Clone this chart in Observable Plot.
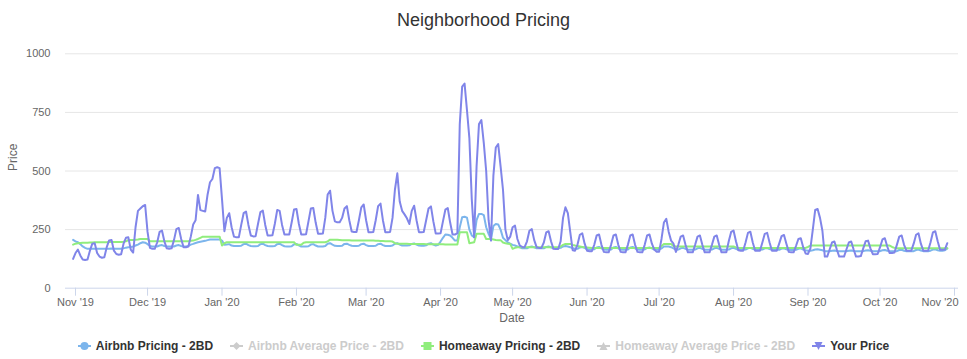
<!DOCTYPE html>
<html><head><meta charset="utf-8">
<script src="https://cdn.jsdelivr.net/npm/d3@7"></script>
<script src="https://cdn.jsdelivr.net/npm/@observablehq/plot@0.6"></script>
<style>
body{margin:0;background:#fff;font-family:"Liberation Sans",Arial,sans-serif;}
#wrap{position:relative;width:967px;height:359px;overflow:hidden;background:#fff;}
#chart{position:absolute;top:0;left:0;}
#title{position:absolute;top:9px;left:0;width:967px;text-align:center;font-size:18px;line-height:22px;color:#333333;}
#legend{position:absolute;top:338px;left:0px;width:967px;height:16px;display:flex;justify-content:center;align-items:center;}
.item{display:flex;align-items:center;margin:0 8.5px;font-weight:bold;font-size:12px;line-height:16px;color:#333333;white-space:nowrap;}
.item.off{color:#cccccc;}
.item svg{margin-right:5px;}
</style></head>
<body>
<div id="wrap"><div id="chart"></div><div id="title">Neighborhood Pricing</div><div id="legend"></div></div>
<script>
// Daily data from Thu 2019-10-31, one row per week: [Thu, Fri, Sat, Sun, Mon, Tue, Wed]
const startDate = "2019-10-31";

const yourPriceWeeks = [
  [125,150,165,140,122,120,122],
  [160,190,192,150,135,130,132],
  [175,204,206,160,146,143,145],
  [190,215,217,165,152,260,330],
  [340,350,355,240,172,168,168],
  [195,240,246,200,170,168,170],
  [205,252,257,210,175,175,178],
  [220,272,290,398,333,330,327],
  [400,452,466,512,516,512,380],
  [243,300,320,260,220,217,217],
  [270,320,327,270,225,221,222],
  [275,325,331,270,225,225,226],
  [275,334,330,270,229,229,229],
  [280,336,338,275,229,229,230],
  [285,340,342,280,232,232,233],
  [300,400,416,330,285,281,281],
  [300,340,350,290,242,240,240],
  [290,345,357,290,239,239,240],
  [290,350,361,290,239,239,240],
  [300,420,490,370,330,315,298],
  [274,330,352,290,239,239,240],
  [290,340,349,285,233,233,234],
  [285,335,342,280,229,229,235],
  [700,860,873,760,640,380,217],
  [520,700,717,620,500,290,203],
  [480,600,615,520,420,250,205],
  [220,260,267,210,182,176,175],
  [200,245,252,205,175,172,172],
  [195,238,243,200,168,167,167],
  [200,300,345,320,240,162,160],
  [185,228,234,190,160,158,158],
  [185,225,229,185,155,153,153],
  [185,225,229,185,155,153,153],
  [185,225,229,185,155,153,153],
  [185,225,229,190,165,155,155],
  [210,280,296,240,203,190,155],
  [185,220,225,185,153,153,153],
  [185,220,225,185,153,153,153],
  [185,220,225,185,153,153,153],
  [200,240,246,200,162,160,160],
  [195,236,241,195,160,160,160],
  [195,232,236,195,160,160,160],
  [190,222,227,190,155,153,153],
  [180,210,213,175,148,146,170],
  [250,334,338,300,245,135,135],
  [165,195,199,165,135,135,135],
  [165,195,199,165,135,135,137],
  [170,200,203,170,145,145,146],
  [175,208,213,178,150,150,152],
  [185,220,225,185,160,160,160],
  [190,228,234,190,160,160,160],
  [195,238,243,200,164,164,165],
  [192]
];

const airbnbWeeks = [
  [206,200,196,188,178,172,168],
  [168,168,168,168,168,168,168],
  [168,168,169,168,168,168,168],
  [170,173,175,176,178,182,186],
  [192,196,194,188,180,178,178],
  [178,182,184,180,178,178,178],
  [178,182,184,180,178,178,180],
  [186,189,193,196,198,200,202],
  [205,208,208,208,208,208,203],
  [185,186,188,182,180,180,180],
  [181,188,190,184,180,179,179],
  [180,188,190,184,180,179,179],
  [180,188,190,184,179,178,178],
  [179,187,189,183,178,178,178],
  [179,186,188,182,178,178,178],
  [180,190,192,186,181,180,180],
  [181,189,190,185,181,180,180],
  [181,188,190,184,180,180,180],
  [181,188,190,184,180,180,180],
  [182,190,192,186,182,182,182],
  [183,189,191,186,182,181,181],
  [183,190,192,186,182,185,199],
  [215,229,228,225,215,203,203],
  [260,303,305,301,250,225,217],
  [290,317,317,312,260,232,210],
  [265,274,272,250,215,205,195],
  [190,185,182,178,174,170,170],
  [170,176,178,174,170,170,170],
  [170,176,178,174,170,170,170],
  [172,178,180,178,175,170,168],
  [168,174,176,172,166,165,165],
  [166,174,176,170,165,164,164],
  [165,174,176,170,165,164,164],
  [165,174,176,170,165,164,164],
  [165,172,174,170,165,164,164],
  [170,178,178,178,175,170,164],
  [165,170,172,168,164,164,164],
  [165,170,172,168,164,164,164],
  [165,170,172,168,164,164,164],
  [165,170,172,168,164,164,164],
  [165,170,172,168,164,164,164],
  [165,170,171,167,164,164,164],
  [164,169,170,166,163,163,163],
  [164,168,170,165,162,160,160],
  [162,165,166,164,162,158,158],
  [158,160,161,159,158,158,158],
  [158,160,161,159,158,158,158],
  [158,161,162,160,158,158,158],
  [158,162,163,160,158,158,158],
  [158,163,164,160,158,158,158],
  [158,163,165,161,158,158,158],
  [160,165,166,162,160,160,162],
  [170]
];

const homeawayWeeks = [
  [186,190,192,193,194,194,194],
  [195,195,196,196,196,196,196],
  [196,197,197,197,197,197,197],
  [198,200,205,206,206,207,208],
  [210,210,210,210,200,200,200],
  [200,200,200,200,200,200,200],
  [200,200,200,200,200,200,200],
  [202,203,206,210,215,220,220],
  [220,220,220,220,220,220,182],
  [192,196,196,196,196,196,196],
  [196,196,196,196,196,196,196],
  [196,196,196,196,196,196,196],
  [196,196,196,196,196,196,196],
  [196,196,185,185,185,194,196],
  [196,196,196,196,196,196,196],
  [196,200,207,207,207,207,206],
  [205,205,205,205,204,204,204],
  [203,203,203,203,203,203,203],
  [202,202,201,201,200,200,200],
  [199,192,190,190,190,190,190],
  [189,189,189,189,189,189,189],
  [188,188,188,188,188,188,188],
  [187,186,186,186,186,186,186],
  [239,239,239,239,192,194,196],
  [232,232,232,232,210,210,210],
  [208,206,205,205,195,192,190],
  [189,168,172,175,175,175,175],
  [175,175,175,175,175,175,175],
  [175,175,175,175,175,175,175],
  [178,185,189,189,189,185,182],
  [180,178,176,175,174,173,172],
  [172,172,172,172,172,172,172],
  [172,172,172,172,172,172,172],
  [172,172,172,172,172,172,172],
  [172,172,172,172,172,172,172],
  [180,189,189,189,189,180,178],
  [178,178,178,178,178,178,178],
  [178,178,178,178,178,178,178],
  [178,178,178,178,178,178,178],
  [178,178,178,174,172,172,172],
  [172,172,172,172,172,172,172],
  [172,172,172,172,172,172,172],
  [172,172,172,172,172,172,172],
  [172,172,172,172,172,176,182],
  [182,182,182,182,182,182,182],
  [182,182,182,182,182,182,182],
  [182,182,182,182,182,182,182],
  [182,182,182,182,182,182,182],
  [182,182,182,182,182,176,172],
  [170,170,170,170,170,170,170],
  [170,170,170,170,170,170,170],
  [170,170,170,170,170,170,170],
  [170]
];

const yTicks = [0, 250, 500, 750, 1000];
const xTickDates = ["2019-11-01","2019-12-01","2020-01-01","2020-02-01","2020-03-01","2020-04-01",
  "2020-05-01","2020-06-01","2020-07-01","2020-08-01","2020-09-01","2020-10-01","2020-11-01"];
const xTickLabels = ["Nov '19","Dec '19","Jan '20","Feb '20","Mar '20","Apr '20",
  "May '20","Jun '20","Jul '20","Aug '20","Sep '20","Oct '20","Nov '20"];

const legendNames = ["Airbnb Pricing - 2BD","Airbnb Average Price - 2BD","Homeaway Pricing - 2BD","Homeaway Average Price - 2BD","Your Price"];
const legendColors = ["#7cb5ec","#cccccc","#90ed7d","#cccccc","#8085e9"];
const legendSymbols = ["circle","diamond","square","triangle","triangle-down"];
const legendActive = [true,false,true,false,true];

// ---- build
const DAY = 86400000;
const t0 = Date.parse(startDate + "T00:00:00Z");
function toRows(weeks){
  return weeks.flat().map((v,i)=>({date:new Date(t0 + i*DAY), value:v}));
}
const airbnb = toRows(airbnbWeeks);
const homeaway = toRows(homeawayWeeks);
const yours = toRows(yourPriceWeeks);

const tickDates = xTickDates.map(s=>new Date(s+"T00:00:00Z"));
const labelByTime = new Map(tickDates.map((d,i)=>[+d, xTickLabels[i]]));
const lastTick = tickDates[tickDates.length-1];

const chart = Plot.plot({
  width: 967,
  height: 330,
  marginTop: 53.3,
  marginBottom: 42.3,
  marginLeft: 65,
  marginRight: 9,
  style: {fontFamily: "'Liberation Sans', Arial, sans-serif", fontSize: "11px", background: "transparent", overflow: "visible"},
  x: {type: "utc", domain: [new Date(Date.UTC(2019,9,27,20)), new Date(Date.UTC(2020,10,2,16))]},
  y: {domain: [0, 1000]},
  marks: [
    Plot.gridY(yTicks.filter(d=>d>0), {stroke: "#e6e6e6", strokeOpacity: 1}),
    Plot.ruleY([0], {stroke: "#ccd6eb"}),
    Plot.axisY({ticks: yTicks, tickFormat: d=>String(d), tickSize: 0, tickPadding: 15, fontSize: 11, fill: "#666666", label: null}),
    Plot.axisX({ticks: tickDates, tickFormat: d=>(+d === +lastTick ? "" : labelByTime.get(+d)), tickSize: 8, tickPadding: 2,
      stroke: "#ccd6eb", fill: "#666666", fontSize: 11, label: null}),
    Plot.axisX({ticks: [lastTick], tickFormat: d=>labelByTime.get(+d), tickSize: 0, tickPadding: 10,
      textAnchor: "end", dx: 4, fill: "#666666", fontSize: 11, label: null}),
    Plot.text(["Date"], {frameAnchor: "bottom", dy: 29.5, lineAnchor: "middle", fontSize: 12, fill: "#666666"}),
    Plot.text(["Price"], {frameAnchor: "left", dx: -52, rotate: -90, lineAnchor: "middle", fontSize: 12, fill: "#666666"}),
    Plot.line(airbnb, {x: "date", y: "value", stroke: "#7cb5ec", strokeWidth: 2}),
    Plot.line(homeaway, {x: "date", y: "value", stroke: "#90ed7d", strokeWidth: 2}),
    Plot.line(yours, {x: "date", y: "value", stroke: "#8085e9", strokeWidth: 2})
  ]
});
document.getElementById("chart").appendChild(chart);

// ---- legend
function symbolSvg(kind, color){
  let shape = "";
  if (kind === "circle") shape = `<circle cx="6.5" cy="6" r="4" fill="${color}"/>`;
  else if (kind === "diamond") shape = `<path d="M6.5 2 L10.5 6 L6.5 10 L2.5 6 Z" fill="${color}"/>`;
  else if (kind === "square") shape = `<rect x="2.5" y="2" width="8" height="8" fill="${color}"/>`;
  else if (kind === "triangle") shape = `<path d="M6.5 2 L10.5 10 L2.5 10 Z" fill="${color}"/>`;
  else shape = `<path d="M2.5 2 L10.5 2 L6.5 10 Z" fill="${color}"/>`;
  return `<svg width="13" height="12" viewBox="0 0 13 12"><line x1="0" x2="13" y1="6" y2="6" stroke="${color}" stroke-width="2"/>${shape}</svg>`;
}
const legend = document.getElementById("legend");
legendNames.forEach((name,i)=>{
  const el = document.createElement("div");
  el.className = "item" + (legendActive[i] ? "" : " off");
  el.innerHTML = symbolSvg(legendSymbols[i], legendColors[i]) + `<span>${name}</span>`;
  legend.appendChild(el);
});
</script>
</body></html>
